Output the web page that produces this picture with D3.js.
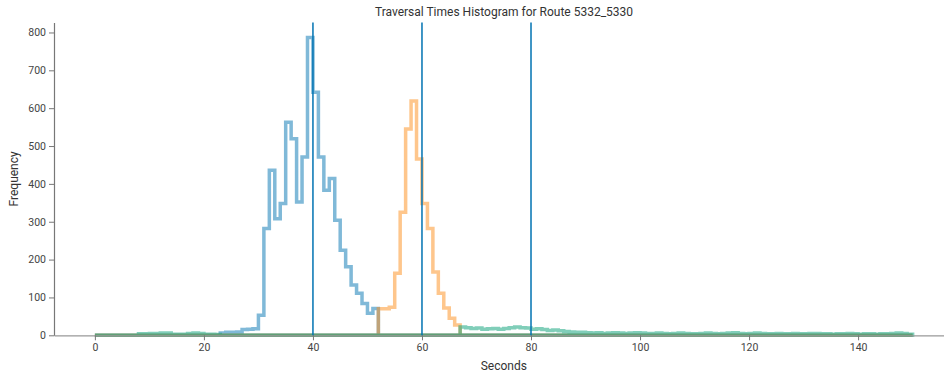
<!DOCTYPE html>
<html>
<head>
<meta charset="utf-8">
<script src="https://cdn.jsdelivr.net/npm/d3@7"></script>
<style>
  body { margin: 0; background: #fff; }
  svg { display: block; font-family: Roboto, "Liberation Sans", sans-serif; }
</style>
</head>
<body>
<div id="chart"></div>
<script>
// shared 1 s bins from 0 to 150 s
var binStart = 0, binEnd = 150;

// counts per bin, first entry belongs to bin [offset, offset + 1)
var blueOffset = 23;
var blueCounts = [6, 8, 8, 9, 15, 16, 17, 53, 282, 436, 308, 348, 563, 519, 352, 471, 787, 642,
                  471, 383, 414, 304, 225, 181, 133, 111, 84, 58, 71];

var orangeOffset = 52;
var orangeCounts = [70, 70, 74, 164, 325, 545, 619, 466, 348, 282, 167, 111, 72, 45, 27];

var greenOffset = 0;
var greenCounts = [
    0, 0, 0, 0, 0, 0, 0, 0,                                    // 0-7
    4, 4, 5, 5, 6, 6, 3, 3, 3, 5, 6, 5, 3, 3, 2,               // 8-22
    0, 0, 0, 0, 0, 0, 0, 0, 0, 0, 0, 0, 0, 0, 0, 0, 0, 0, 0, 0, 0, 0,
    0, 0, 0, 0, 0, 0, 0, 0, 0, 0, 0, 0, 0, 0, 0, 0, 0, 0, 0, 0, 0, 0,  // 23-66
    22, 20, 18, 19, 16, 17, 18, 16, 18, 20, 22, 20, 19, 16, 17, 15, 13, 14, 12, 10, 9, 8, 8, 7, // 67-90
    6, 7, 5, 6, 7, 6, 5, 6, 7, 6, 5, 5, 6, 5, 4, 5, 6, 5, 4, 4,  // 91-110
    5, 6, 5, 4, 5, 6, 7, 5, 4, 5, 6, 5, 4, 4, 5, 4, 4, 5, 4, 4,  // 111-130
    5, 5, 4, 4, 3, 4, 4, 5, 4, 3, 4, 4, 3, 4, 4, 5, 6, 5, 3      // 131-149
];

var seriesNames = ["blue", "orange", "green"];
var seriesColors = ["#0173b2", "#fd8d19", "#029e73"];
var markerSeconds = [40, 60, 80];

var xTicks = [0, 20, 40, 60, 80, 100, 120, 140];
var yTicks = [0, 100, 200, 300, 400, 500, 600, 700, 800];

var titleText = "Traversal Times Histogram for Route 5332_5330";
var xLabel = "Seconds";
var yLabel = "Frequency";

function expand(offset, counts) {
    var full = d3.range(binStart, binEnd).map(function() { return 0; });
    counts.forEach(function(c, i) { full[offset + i] = c; });
    return full;
}

var hists = [
    expand(blueOffset, blueCounts),
    expand(orangeOffset, orangeCounts),
    expand(greenOffset, greenCounts)
];

var W = 944, H = 374;
var axLeft = 54, axTop = 22.5, axBottom = 335.3, axRight = 953.5;

var x = d3.scaleLinear()
    .domain([binStart - 7.5, binEnd + 7.5])
    .range([axLeft, axRight]);

var yMax = d3.max(hists, function(h) { return d3.max(h); }) * 1.05;
var y = d3.scaleLinear()
    .domain([0, yMax])
    .range([axBottom, axTop]);

var svg = d3.select("#chart").append("svg")
    .attr("width", W)
    .attr("height", H);

// step outline, closed along the baseline like matplotlib's histtype="step"
function stepPoints(h) {
    var pts = [[binStart, 0]];
    h.forEach(function(c, i) {
        pts.push([binStart + i, c]);
        pts.push([binStart + i + 1, c]);
    });
    pts.push([binEnd, 0]);
    return pts;
}

var line = d3.line()
    .x(function(d) { return x(d[0]); })
    .y(function(d) { return y(d[1]); });

svg.append("g").attr("class", "hists")
    .selectAll("path")
    .data(hists)
    .enter().append("path")
    .attr("d", function(d) { return line(stepPoints(d)) + "Z"; })
    .attr("fill", "none")
    .attr("stroke", function(d, i) { return seriesColors[i]; })
    .attr("stroke-opacity", 0.5)
    .attr("stroke-width", 3.5)
    .attr("stroke-linejoin", "miter");

// axes
var xAxis = d3.axisBottom(x).tickValues(xTicks).tickSize(5).tickSizeOuter(0);
var yAxis = d3.axisLeft(y).tickValues(yTicks).tickSize(5).tickSizeOuter(0);

var gx = svg.append("g")
    .attr("transform", "translate(0," + axBottom + ")")
    .call(xAxis);
var gy = svg.append("g")
    .attr("transform", "translate(" + axLeft + ",0)")
    .call(yAxis);

[gx, gy].forEach(function(g) {
    g.select(".domain").attr("stroke", "#777").attr("stroke-width", 1.2);
    g.selectAll(".tick line").attr("stroke", "#777");
    g.selectAll(".tick text")
        .attr("fill", "#444")
        .style("font-size", "10.5px")
        .style("font-family", "Roboto, sans-serif");
});
gx.select(".domain").attr("stroke", "#999");

// marker lines on top
svg.append("g").selectAll("line")
    .data(markerSeconds)
    .enter().append("line")
    .attr("x1", function(d) { return x(d); })
    .attr("x2", function(d) { return x(d); })
    .attr("y1", axTop)
    .attr("y2", axBottom)
    .attr("stroke", "#0173b2")
    .attr("stroke-width", 1.5);

svg.append("text")
    .attr("x", 504)
    .attr("y", 16)
    .attr("text-anchor", "middle")
    .attr("fill", "#333")
    .style("font-size", "12px")
    .text(titleText);

svg.append("text")
    .attr("x", x(75))
    .attr("y", 370)
    .attr("text-anchor", "middle")
    .attr("fill", "#333")
    .style("font-size", "12px")
    .text(xLabel);

svg.append("text")
    .attr("transform", "translate(18," + ((axTop + axBottom) / 2) + ") rotate(-90)")
    .attr("text-anchor", "middle")
    .attr("fill", "#333")
    .style("font-size", "12px")
    .text(yLabel);
</script>
</body>
</html>
